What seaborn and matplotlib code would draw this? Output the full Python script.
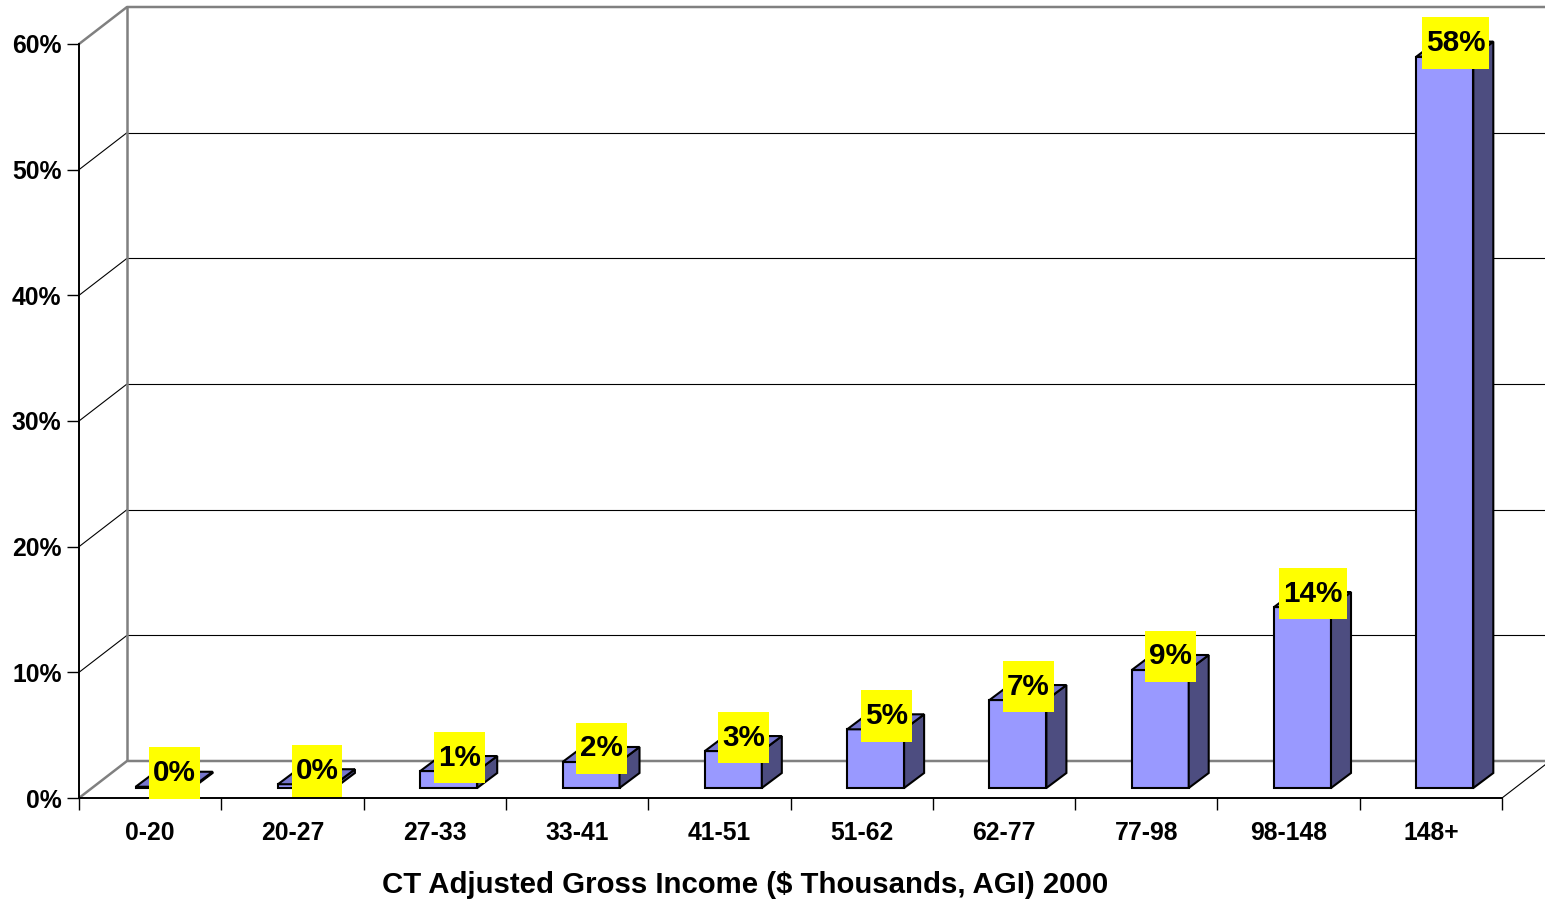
import numpy as np
import pandas as pd
import matplotlib
matplotlib.use("Agg")
import matplotlib.pyplot as plt
import matplotlib.transforms as mtransforms
from matplotlib.patches import Polygon
from matplotlib.path import Path
import seaborn as sns

# Share of CT income tax by AGI bracket (percent)
brackets = ["0-20", "20-27", "27-33", "33-41", "41-51", "51-62",
            "62-77", "77-98", "98-148", "148+"]
share_pct = [0.1, 0.3, 1.35, 2.07, 2.94, 4.67, 7.0, 9.39, 14.4, 58.2]
y_ticks = [0, 10, 20, 30, 40, 50, 60]
x_title = "CT Adjusted Gross Income ($ Thousands, AGI) 2000"

FRONT = "#9999FF"
TOP = "#7676CC"
SIDE = "#4D4D80"
WALL = "#808080"
LABEL_BG = "#FFFF00"

sns.set_style("white")
plt.rcParams["font.family"] = ["Liberation Sans", "DejaVu Sans"]
plt.rcParams["font.weight"] = "bold"

DPI = 100
W, H = 1545, 899
fig = plt.figure(figsize=(W / DPI, H / DPI), dpi=DPI, facecolor="white")

# front plane of the 3-D box, in pixels
left_px, right_px, base_px, top_px = 79, 1502, 798, 44
ax = fig.add_axes([left_px / W, 1 - base_px / H,
                   (right_px - left_px) / W, (base_px - top_px) / H])

n = len(brackets)
ymax = y_ticks[-1]
ax.set_xlim(-0.5, n - 0.5)
ax.set_ylim(0, ymax)

# pixel -> data conversion along each axis
cx_per_px = n / (right_px - left_px)
cy_per_px = ymax / (base_px - top_px)

df = pd.DataFrame({"bracket": brackets, "share": share_pct})
sns.barplot(data=df, x="bracket", y="share", color=FRONT, saturation=1,
            width=0.4, edgecolor="black", linewidth=1.5, errorbar=None,
            ax=ax, zorder=3)
ax.set_xlim(-0.5, n - 0.5)
ax.set_ylim(0, ymax)

# bars sit a little behind the front plane
shift = mtransforms.ScaledTranslation(14 / DPI, 10 / DPI, fig.dpi_scale_trans)
bar_tr = ax.transData + shift
bdx, bdy = 20 * cx_per_px, 15 * cy_per_px   # bar depth

bars = list(ax.patches)
for p in bars:
    p.set_transform(bar_tr)
    p.set_clip_on(False)
    x0, w, h = p.get_x(), p.get_width(), p.get_height()
    x1 = x0 + w
    side = Polygon([(x1, 0), (x1 + bdx, bdy), (x1 + bdx, h + bdy), (x1, h)],
                   closed=True, facecolor=SIDE, edgecolor="black", lw=1.5,
                   transform=bar_tr, clip_on=False, zorder=3)
    top = Polygon([(x0, h), (x1, h), (x1 + bdx, h + bdy), (x0 + bdx, h + bdy)],
                  closed=True, facecolor=TOP, edgecolor="black", lw=1.5,
                  transform=bar_tr, clip_on=False, zorder=3)
    ax.add_patch(side)
    ax.add_patch(top)


def label_box(x0, y0, width, height, mutation_size):
    px = 0.135 * mutation_size
    py = 0.40 * mutation_size
    x0, y0 = x0 - px, y0 - py
    x1, y1 = x0 + width + 2 * px, y0 + height + 2 * py
    return Path([(x0, y0), (x1, y0), (x1, y1), (x0, y1), (x0, y0)], closed=True)


for p, v in zip(bars, share_pct):
    cx = p.get_x() + p.get_width() / 2
    ax.annotate(f"{v:.0f}%", xy=(cx, v), xycoords=bar_tr,
                xytext=(10.5, 13.5), textcoords="offset pixels",
                ha="center", va="center", fontsize=21.3, fontweight="bold",
                color="black",
                bbox=dict(boxstyle=label_box, fc=LABEL_BG, ec="none"),
                zorder=6, annotation_clip=False)

# walls of the 3-D box
wdx, wdy = 48 * cx_per_px, 37 * cy_per_px
xl, xr = -0.5, n - 0.5
kw = dict(clip_on=False, zorder=0.5, solid_capstyle="butt")
for t in y_ticks[1:-1]:
    ax.plot([xl, xl + wdx], [t, t + wdy], color="black", lw=0.8, **kw)
    ax.plot([xl + wdx, xr + wdx], [t + wdy, t + wdy], color="black", lw=0.8, **kw)
ax.plot([xl, xl + wdx, xr + wdx], [ymax, ymax + wdy, ymax + wdy],
        color=WALL, lw=1.8, **kw)
ax.plot([xl, xl + wdx, xr + wdx], [0, wdy, wdy], color=WALL, lw=1.8, **kw)
ax.plot([xl + wdx, xl + wdx], [wdy, ymax + wdy], color=WALL, lw=1.8, **kw)
ax.plot([xr, xr + wdx], [0, wdy], color="black", lw=0.8, **kw)

# axes styling
for s in ["top", "right"]:
    ax.spines[s].set_visible(False)
for s in ["left", "bottom"]:
    ax.spines[s].set_color("black")
    ax.spines[s].set_linewidth(1.4)
    ax.spines[s].set_zorder(4)
ax.patch.set_visible(False)

ax.set_yticks(y_ticks)
ax.set_yticklabels([f"{t}%" for t in y_ticks])
ax.tick_params(axis="y", left=True, length=8.6, width=1.0, direction="out",
               pad=4, labelsize=17.8, colors="black")
ax.set_xticks(range(n))
ax.set_xticklabels(brackets)
ax.set_xticks(np.arange(-0.5, n), minor=True)
ax.tick_params(axis="x", which="major", bottom=True, length=0, pad=16.5,
               labelsize=17.8, labelcolor="black")
ax.tick_params(axis="x", which="minor", bottom=True, length=8.6, width=1.0,
               direction="out", color="black")
for lbl in ax.get_xticklabels() + ax.get_yticklabels():
    lbl.set_fontweight("bold")
ax.set_xlabel("")
ax.set_ylabel("")

fig.text(745 / W, 1 - 885 / H, x_title, ha="center", va="center",
         fontsize=21.2, fontweight="bold", color="black")

fig.savefig("out.png", dpi=DPI, facecolor="white")
